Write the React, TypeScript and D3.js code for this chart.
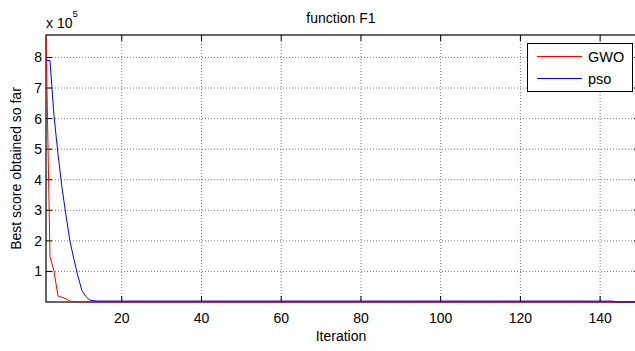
import { useEffect, useRef } from "react";
import * as d3 from "d3";

// Convergence curves (score in units of 1e5).
const gwoIter = [1, 2, 3, 4, 5, 6, 7, 8, 10, 15, 150];
const gwoScore = [8.735, 1.48, 1.02, 0.2, 0.15, 0.11, 0.03, 0.012, 0.004, 0.001, 0.0005];
const psoIter = [1, 2, 3, 4, 5, 6, 7, 8, 9, 10, 11, 12, 13, 14, 143, 144, 150];
const psoScore = [7.9, 7.9, 6.1, 4.85, 3.75, 2.85, 2.0, 1.4, 0.85, 0.38, 0.18, 0.06, 0.04, 0.03, 0.03, 0.001, 0.001];

const xTicks = [20, 40, 60, 80, 100, 120, 140];
const yTicks = [1, 2, 3, 4, 5, 6, 7, 8];
const xDomain: [number, number] = [1, 150];
const yDomain: [number, number] = [0, 8.735];

const series = [
  { name: "GWO", color: "#ff0000", iter: gwoIter, score: gwoScore },
  { name: "pso", color: "#0000ff", iter: psoIter, score: psoScore },
];

const WIDTH = 635;
const HEIGHT = 351;
const PAD = { left: 46, right: 640, top: 35, bottom: 302 };
const FONT = "'Liberation Sans', Arial, Helvetica, sans-serif";

export default function App() {
  const svgRef = useRef<SVGSVGElement | null>(null);

  useEffect(() => {
    const svgEl = svgRef.current;
    if (!svgEl) return;
    const svg = d3.select(svgEl);
    svg.selectAll("*").remove();

    const x = d3.scaleLinear().domain(xDomain).range([PAD.left, PAD.right]);
    const y = d3.scaleLinear().domain(yDomain).range([PAD.bottom, PAD.top]);
    const tick = 6;

    svg
      .append("rect")
      .attr("x", PAD.left)
      .attr("y", PAD.top)
      .attr("width", PAD.right - PAD.left)
      .attr("height", PAD.bottom - PAD.top)
      .attr("fill", "#fff");

    // Dotted grid.
    const grid = svg.append("g").attr("stroke", "#000").attr("stroke-width", 0.7).attr("stroke-dasharray", "1 2").attr("opacity", 0.75);
    xTicks.forEach((t) => {
      grid.append("line").attr("x1", x(t)).attr("x2", x(t)).attr("y1", PAD.top).attr("y2", PAD.bottom);
    });
    yTicks.forEach((t) => {
      grid.append("line").attr("x1", PAD.left).attr("x2", PAD.right).attr("y1", y(t)).attr("y2", y(t));
    });

    // Inward ticks on all four sides.
    const ticks = svg.append("g").attr("stroke", "#000").attr("stroke-width", 1);
    xTicks.forEach((t) => {
      ticks.append("line").attr("x1", x(t)).attr("x2", x(t)).attr("y1", PAD.bottom).attr("y2", PAD.bottom - tick);
      ticks.append("line").attr("x1", x(t)).attr("x2", x(t)).attr("y1", PAD.top).attr("y2", PAD.top + tick);
    });
    yTicks.forEach((t) => {
      ticks.append("line").attr("x1", PAD.left).attr("x2", PAD.left + tick).attr("y1", y(t)).attr("y2", y(t));
      ticks.append("line").attr("x1", PAD.right).attr("x2", PAD.right - tick).attr("y1", y(t)).attr("y2", y(t));
    });

    svg
      .append("rect")
      .attr("x", PAD.left)
      .attr("y", PAD.top)
      .attr("width", PAD.right - PAD.left)
      .attr("height", PAD.bottom - PAD.top)
      .attr("fill", "none")
      .attr("stroke", "#000")
      .attr("stroke-width", 1.2);

    // Series.
    svg
      .append("clipPath")
      .attr("id", "plot-clip")
      .append("rect")
      .attr("x", PAD.left - 1)
      .attr("y", PAD.top - 1)
      .attr("width", PAD.right - PAD.left + 2)
      .attr("height", PAD.bottom - PAD.top + 2);
    const gLines = svg.append("g").attr("clip-path", "url(#plot-clip)");
    series.forEach((s) => {
      const pts = s.iter.map((it, i) => [it, s.score[i]] as [number, number]);
      gLines
        .append("path")
        .attr("fill", "none")
        .attr("stroke", s.color)
        .attr("stroke-width", 1)
        .attr("d", d3.line<[number, number]>().x((d) => x(d[0])).y((d) => y(d[1]))(pts));
    });

    // Tick labels.
    const labels = svg.append("g").attr("font-family", FONT).attr("font-size", "14px").attr("fill", "#000");
    xTicks.forEach((t) => {
      labels.append("text").attr("x", x(t)).attr("y", 323).attr("text-anchor", "middle").text(t);
    });
    yTicks.forEach((t) => {
      labels.append("text").attr("x", 42).attr("y", y(t) + 5).attr("text-anchor", "end").text(t);
    });

    // Exponent label.
    const exp = svg.append("text").attr("x", 46).attr("y", 28).attr("font-family", FONT).attr("font-size", "14px");
    exp.append("tspan").text("x 10");
    exp.append("tspan").attr("dy", -11).attr("font-size", "9.5px").text("5");

    // Title and axis titles.
    svg
      .append("text")
      .attr("x", 341)
      .attr("y", 23)
      .attr("text-anchor", "middle")
      .attr("font-family", FONT)
      .attr("font-size", "14px")
      .text("function F1");
    svg
      .append("text")
      .attr("x", 341)
      .attr("y", 341)
      .attr("text-anchor", "middle")
      .attr("font-family", FONT)
      .attr("font-size", "14px")
      .text("Iteration");
    const cy = (PAD.top + PAD.bottom) / 2;
    svg
      .append("text")
      .attr("transform", `translate(21, ${cy}) rotate(-90)`)
      .attr("text-anchor", "middle")
      .attr("font-family", FONT)
      .attr("font-size", "14px")
      .text("Best score obtained so far");

    // Legend.
    const legend = svg.append("g");
    legend
      .append("rect")
      .attr("x", 527.5)
      .attr("y", 43.5)
      .attr("width", 105)
      .attr("height", 48)
      .attr("fill", "#fff")
      .attr("stroke", "#000")
      .attr("stroke-width", 1);
    series.forEach((s, i) => {
      const ly = 56.5 + i * 22;
      legend.append("line").attr("x1", 537).attr("x2", 582).attr("y1", ly).attr("y2", ly).attr("stroke", s.color).attr("stroke-width", 1.2);
      legend
        .append("text")
        .attr("x", 588)
        .attr("y", ly + 5)
        .attr("font-family", FONT)
        .attr("font-size", "14.5px")
        .text(s.name);
    });
  }, []);

  return (
    <>
      <style>{"body{margin:0}"}</style>
      <svg ref={svgRef} width={WIDTH} height={HEIGHT} viewBox={`0 0 ${WIDTH} ${HEIGHT}`} style={{ display: "block", background: "#fff" }} />
    </>
  );
}
